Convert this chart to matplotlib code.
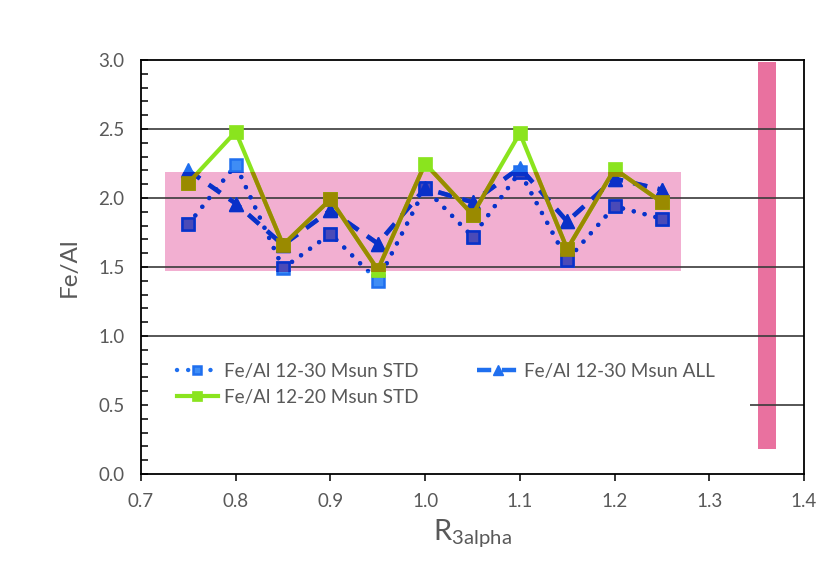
import matplotlib
matplotlib.use("Agg")
import matplotlib.pyplot as plt
from matplotlib.patches import Rectangle
from matplotlib.ticker import MultipleLocator

plt.rcParams['font.family'] = ['Lato', 'DejaVu Sans']
plt.rcParams['mathtext.fontset'] = 'custom'
plt.rcParams['mathtext.rm'] = 'Lato'

# ---- data ----
r3alpha = [0.75, 0.80, 0.85, 0.90, 0.95, 1.00, 1.05, 1.10, 1.15, 1.20, 1.25]
feal_12_30_std = [1.81, 2.24, 1.49, 1.74, 1.40, 2.07, 1.72, 2.19, 1.55, 1.94, 1.85]
feal_12_30_all = [2.20, 1.96, 1.66, 1.91, 1.67, 2.07, 1.97, 2.22, 1.83, 2.14, 2.06]
feal_12_20_std = [2.11, 2.48, 1.66, 1.99, 1.48, 2.25, 1.88, 2.47, 1.63, 2.21, 1.97]
series_labels = ["Fe/Al 12-30 Msun STD", "Fe/Al 12-30 Msun ALL", "Fe/Al 12-20 Msun STD"]

band_x = [0.725, 1.270]
band_y = [1.47, 2.185]
bar_x = 1.3605
bar_width = 0.019
bar_low = 0.18
bar_high = 2.985

x_ticks = [0.7, 0.8, 0.9, 1.0, 1.1, 1.2, 1.3, 1.4]
y_ticks = [0.0, 0.5, 1.0, 1.5, 2.0, 2.5, 3.0]

fig = plt.figure(figsize=(8.3, 5.65), dpi=100)
ax = fig.add_axes([141/830, 1-474/565, 663/830, 414/565])
ax.set_xlim(0.7, 1.4)
ax.set_ylim(0.0, 3.0)

# pink band
band = Rectangle((band_x[0], band_y[0]), band_x[1]-band_x[0], band_y[1]-band_y[0],
                 facecolor='#F2AFD1', edgecolor='none', zorder=1)
ax.add_patch(band)

# right bar
ax.bar([bar_x], [bar_high-bar_low], bottom=[bar_low], width=bar_width,
       color='#E9719F', zorder=1)

# gridlines
for yv in y_ticks[1:-1]:
    ax.axhline(yv, color='#3A3A3A', lw=1.2, zorder=1.2)

# white area behind legend
ax.add_patch(Rectangle((0.0, 0.085), 0.918, 0.215, transform=ax.transAxes,
                       facecolor='white', edgecolor='none', zorder=1.3))

def styles(dark):
    blue = '#0A30C8' if dark else '#1F6FEF'
    s1 = dict(color=blue, lw=3.2, linestyle=(0, (0.01, 2.5)), dash_capstyle='round',
              marker='s', ms=8, mfc='#4A4AB8' if dark else '#3F8DF5',
              mec=blue, mew=1.8)
    s2 = dict(color=blue, lw=3.2, linestyle=(0, (3.2, 2.4)),
              marker='^', ms=9.5, mfc=blue, mec=blue)
    g = '#9A8A00' if dark else '#8AE41E'
    s3 = dict(color=g, lw=3.0, linestyle='-', marker='s', ms=9.5, mfc=g, mec=g, mew=0.5)
    return s1, s2, s3

s1, s2, s3 = styles(False)
h1, = ax.plot(r3alpha, feal_12_30_std, label=series_labels[0], zorder=3, **s1)
h2, = ax.plot(r3alpha, feal_12_30_all, label=series_labels[1], zorder=3.1, **s2)
h3, = ax.plot(r3alpha, feal_12_20_std, label=series_labels[2], zorder=3.2, **s3)

# darker appearance where the lines lie in the pink band
d1, d2, d3 = styles(True)
for ys, st, z in [(feal_12_30_std, d1, 4), (feal_12_30_all, d2, 4.1), (feal_12_20_std, d3, 4.2)]:
    ln, = ax.plot(r3alpha, ys, zorder=z, **st)
    ln.set_clip_path(band)

# axes styling
for sp in ax.spines.values():
    sp.set_color('black')
    sp.set_linewidth(1.3)
    sp.set_zorder(5)
ax.set_axisbelow(False)
ax.set_xticks(x_ticks)
ax.set_xticklabels([f"{v:.1f}" for v in x_ticks])
ax.set_yticks(y_ticks)
ax.set_yticklabels([f"{v:.1f}" for v in y_ticks])
ax.yaxis.set_minor_locator(MultipleLocator(0.1))
ax.tick_params(axis='y', which='both', direction='in', length=5, width=1.1,
               colors='black', labelcolor='#595959', labelsize=13.5, pad=12)
ax.tick_params(axis='x', which='major', direction='out', length=5, width=1.1,
               colors='black', labelcolor='#595959', labelsize=13.5, pad=9)

ax.set_ylabel("Fe/Al", fontsize=17.5, color='#595959', labelpad=13)
ax.set_xlabel(r"R$_{\mathregular{3alpha}}$", fontsize=21, color='#595959', labelpad=5)

leg = ax.legend([h1, h3, h2], [series_labels[0], series_labels[2], series_labels[1]],
                ncol=2, loc='upper left', bbox_to_anchor=(0.028, 0.31),
                frameon=False, fontsize=13.6, labelcolor='#595959',
                handlelength=2.2, handletextpad=0.3, columnspacing=3.1,
                labelspacing=0.5, markerscale=0.8)
leg.set_zorder(6)

fig.savefig("out.png", dpi=100)
